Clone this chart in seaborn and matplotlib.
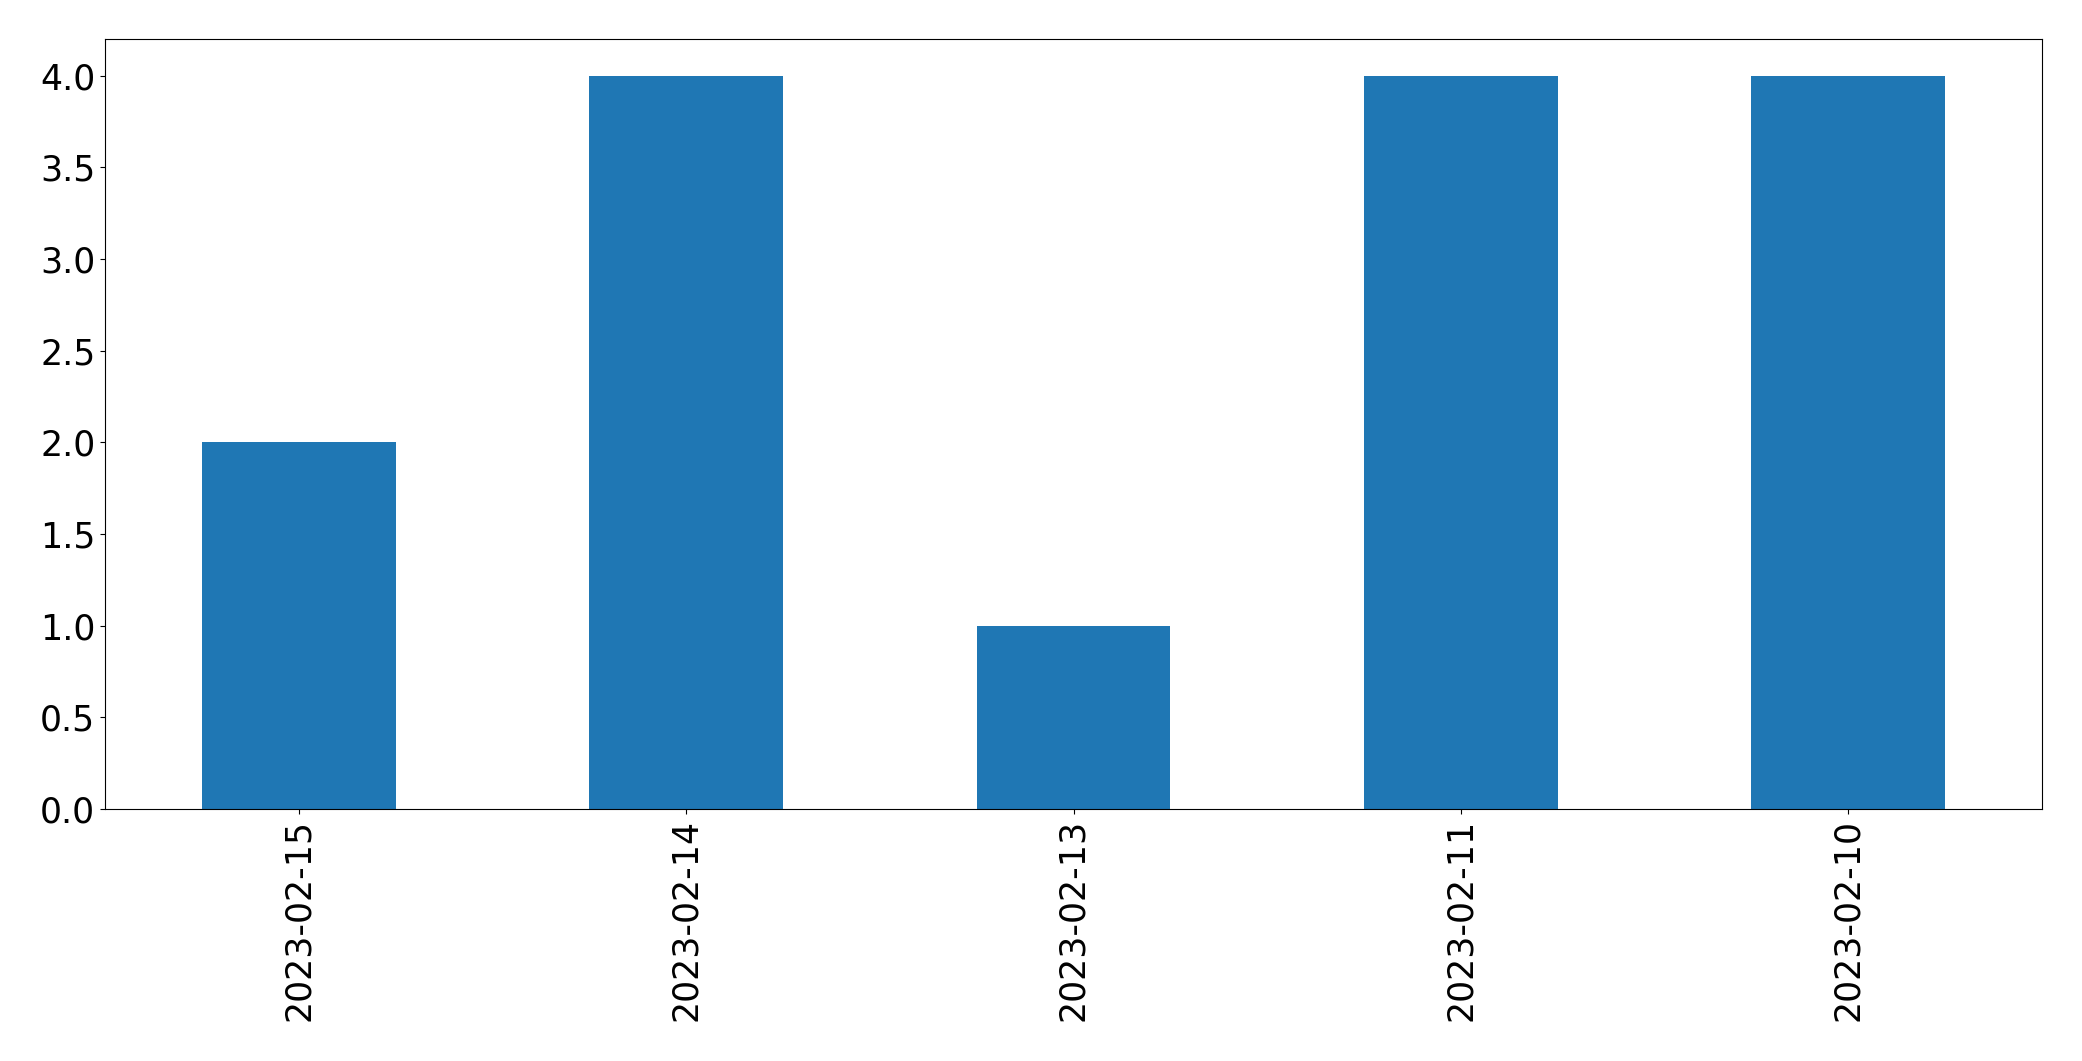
import pandas as pd
import seaborn as sns
import matplotlib.pyplot as plt

dates = ["2023-02-15", "2023-02-14", "2023-02-13", "2023-02-11", "2023-02-10"]
counts = [2, 4, 1, 4, 4]

df = pd.DataFrame({"date": dates, "count": counts})

fig, ax = plt.subplots(figsize=(20.82, 10.61), dpi=100)
fig.subplots_adjust(left=105/2082, right=2042/2082, top=1-39/1061, bottom=1-809/1061)

sns.barplot(data=df, x="date", y="count", order=dates, color="#1f77b4",
            saturation=1, width=0.5, linewidth=0, ax=ax)

ax.set_xlim(-0.5, 4.5)
ax.set_ylim(0, 4.2)
ax.set_xlabel("")
ax.set_ylabel("")
for s in ax.spines.values():
    s.set_color("black")
ax.tick_params(axis="both", labelsize=25, colors="black")
plt.setp(ax.get_xticklabels(), rotation=90)

plt.savefig("out.png", dpi=100)
